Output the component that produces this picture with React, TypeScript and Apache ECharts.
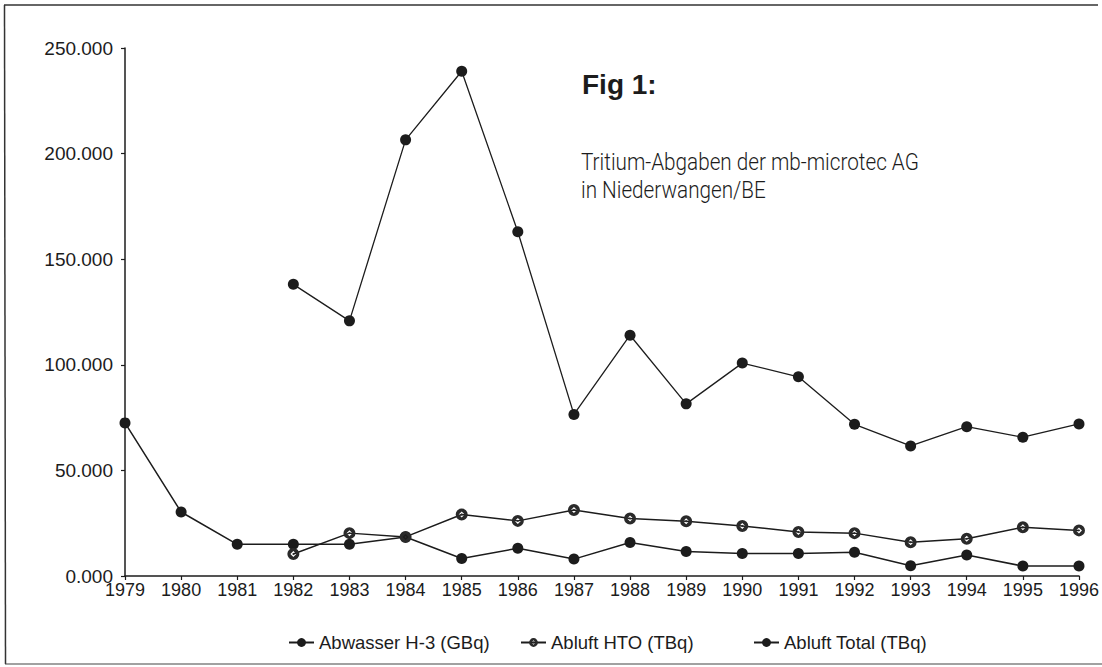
import React, { useEffect, useRef } from "react";
import * as echarts from "echarts";

const years = ["1979","1980","1981","1982","1983","1984","1985","1986","1987","1988","1989","1990","1991","1992","1993","1994","1995","1996"];
const abwasser = [72.5, 30.3, 15.0, 15.0, 15.0, 18.5, 8.3, 13.1, 8.0, 15.9, 11.6, 10.7, 10.7, 11.2, 4.9, 9.9, 4.7, 4.7];
const hto = [null, null, null, 10.4, 20.3, 18.5, 29.1, 26.1, 31.3, 27.2, 25.9, 23.7, 20.8, 20.3, 16.0, 17.6, 23.1, 21.6];
const total = [null, null, null, 138.1, 120.8, 206.5, 239.0, 163.0, 76.5, 114.0, 81.5, 100.8, 94.3, 71.8, 61.6, 70.7, 65.7, 72.0];
const yTicks = { min: 0, max: 250, interval: 50 };
const seriesNames = ["Abwasser H-3 (GBq)", "Abluft HTO (TBq)", "Abluft Total (TBq)"];
const titleText = "Fig 1:";
const subtitleLines = ["Tritium-Abgaben der mb-microtec AG", "in Niederwangen/BE"];

const INK = "#1c1c1c";
const htoSymbol =
  "path://M10,0 A10,10 0 1,1 10,20 A10,10 0 1,1 10,0 Z M10,5 L5,10 L10,15 L15,10 Z M10,8 L12,10 L10,12 L8,10 Z";

export default function App() {
  const ref = useRef<HTMLDivElement>(null);
  useEffect(() => {
    if (!ref.current) return;
    const chart = echarts.init(ref.current, null, { renderer: "svg" });
    const axisFont = "Liberation Sans, Arial, sans-serif";
    const legendCommon = {
      orient: "horizontal",
      top: 633,
      padding: 0,
      itemWidth: 25,
      itemHeight: 11,
      selectedMode: false,
      textStyle: { fontSize: 18.5, fontFamily: axisFont, color: INK },
    };
    const subFont = "300 23px Roboto, 'Liberation Sans', sans-serif";
    chart.setOption({
      animation: false,
      backgroundColor: "#ffffff",
      grid: { left: 125, right: 21, top: 48, bottom: 91 },
      legend: [
        { ...legendCommon, left: 288, data: [seriesNames[0]] },
        { ...legendCommon, left: 520, data: [seriesNames[1]] },
        { ...legendCommon, left: 753, data: [seriesNames[2]] },
      ],
      xAxis: {
        type: "category",
        data: years,
        boundaryGap: false,
        axisLine: { lineStyle: { color: INK, width: 1.5 } },
        axisTick: { show: true, length: 4, lineStyle: { color: INK, width: 1.2 } },
        axisLabel: { fontSize: 18, fontFamily: axisFont, color: INK, margin: 5 },
        splitLine: { show: false },
      },
      yAxis: {
        type: "value",
        min: yTicks.min,
        max: yTicks.max,
        interval: yTicks.interval,
        axisLine: { show: true, lineStyle: { color: INK, width: 1.5 } },
        axisTick: { show: true, length: 4, lineStyle: { color: INK, width: 1.2 } },
        axisLabel: {
          fontSize: 19,
          fontFamily: axisFont,
          color: INK,
          margin: 12,
          formatter: (v: number) => v.toFixed(3),
        },
        splitLine: { show: false },
      },
      series: [
        {
          name: seriesNames[0],
          type: "line",
          data: abwasser,
          symbol: "circle",
          symbolSize: 11,
          lineStyle: { color: INK, width: 1.5 },
          itemStyle: { color: INK },
        },
        {
          name: seriesNames[1],
          type: "line",
          data: hto,
          symbol: htoSymbol,
          symbolSize: 12,
          lineStyle: { color: INK, width: 1.5 },
          itemStyle: { color: "#2a2a2a" },
        },
        {
          name: seriesNames[2],
          type: "line",
          data: total,
          symbol: "circle",
          symbolSize: 11,
          lineStyle: { color: INK, width: 1.3 },
          itemStyle: { color: INK },
        },
      ],
      graphic: [
        { type: "line", shape: { x1: 4, y1: 5, x2: 1098, y2: 5 }, style: { stroke: "#333", lineWidth: 1.5 } },
        { type: "line", shape: { x1: 4.5, y1: 5, x2: 5.5, y2: 664 }, style: { stroke: "#333", lineWidth: 1.5 } },
        { type: "line", shape: { x1: 5, y1: 664, x2: 1102, y2: 664 }, style: { stroke: "#444", lineWidth: 1.2 } },
        {
          type: "text",
          x: 582,
          y: 84.3,
          style: {
            text: titleText,
            font: "bold 28px 'Liberation Sans', Arial, sans-serif",
            fill: INK,
            align: "left",
            verticalAlign: "middle",
          },
        },
        {
          type: "text",
          x: 581,
          y: 162,
          scaleX: 0.9,
          style: {
            text: subtitleLines[0],
            font: subFont,
            fill: INK,
            align: "left",
            verticalAlign: "middle",
          },
        },
        {
          type: "text",
          x: 581,
          y: 190,
          scaleX: 0.9,
          style: {
            text: subtitleLines[1],
            font: subFont,
            fill: INK,
            align: "left",
            verticalAlign: "middle",
          },
        },
      ],
    });
    return () => chart.dispose();
  }, []);
  return (
    <div
      ref={ref}
      style={{ position: "fixed", left: 0, top: 0, width: 1102, height: 667, background: "#fff" }}
    />
  );
}
